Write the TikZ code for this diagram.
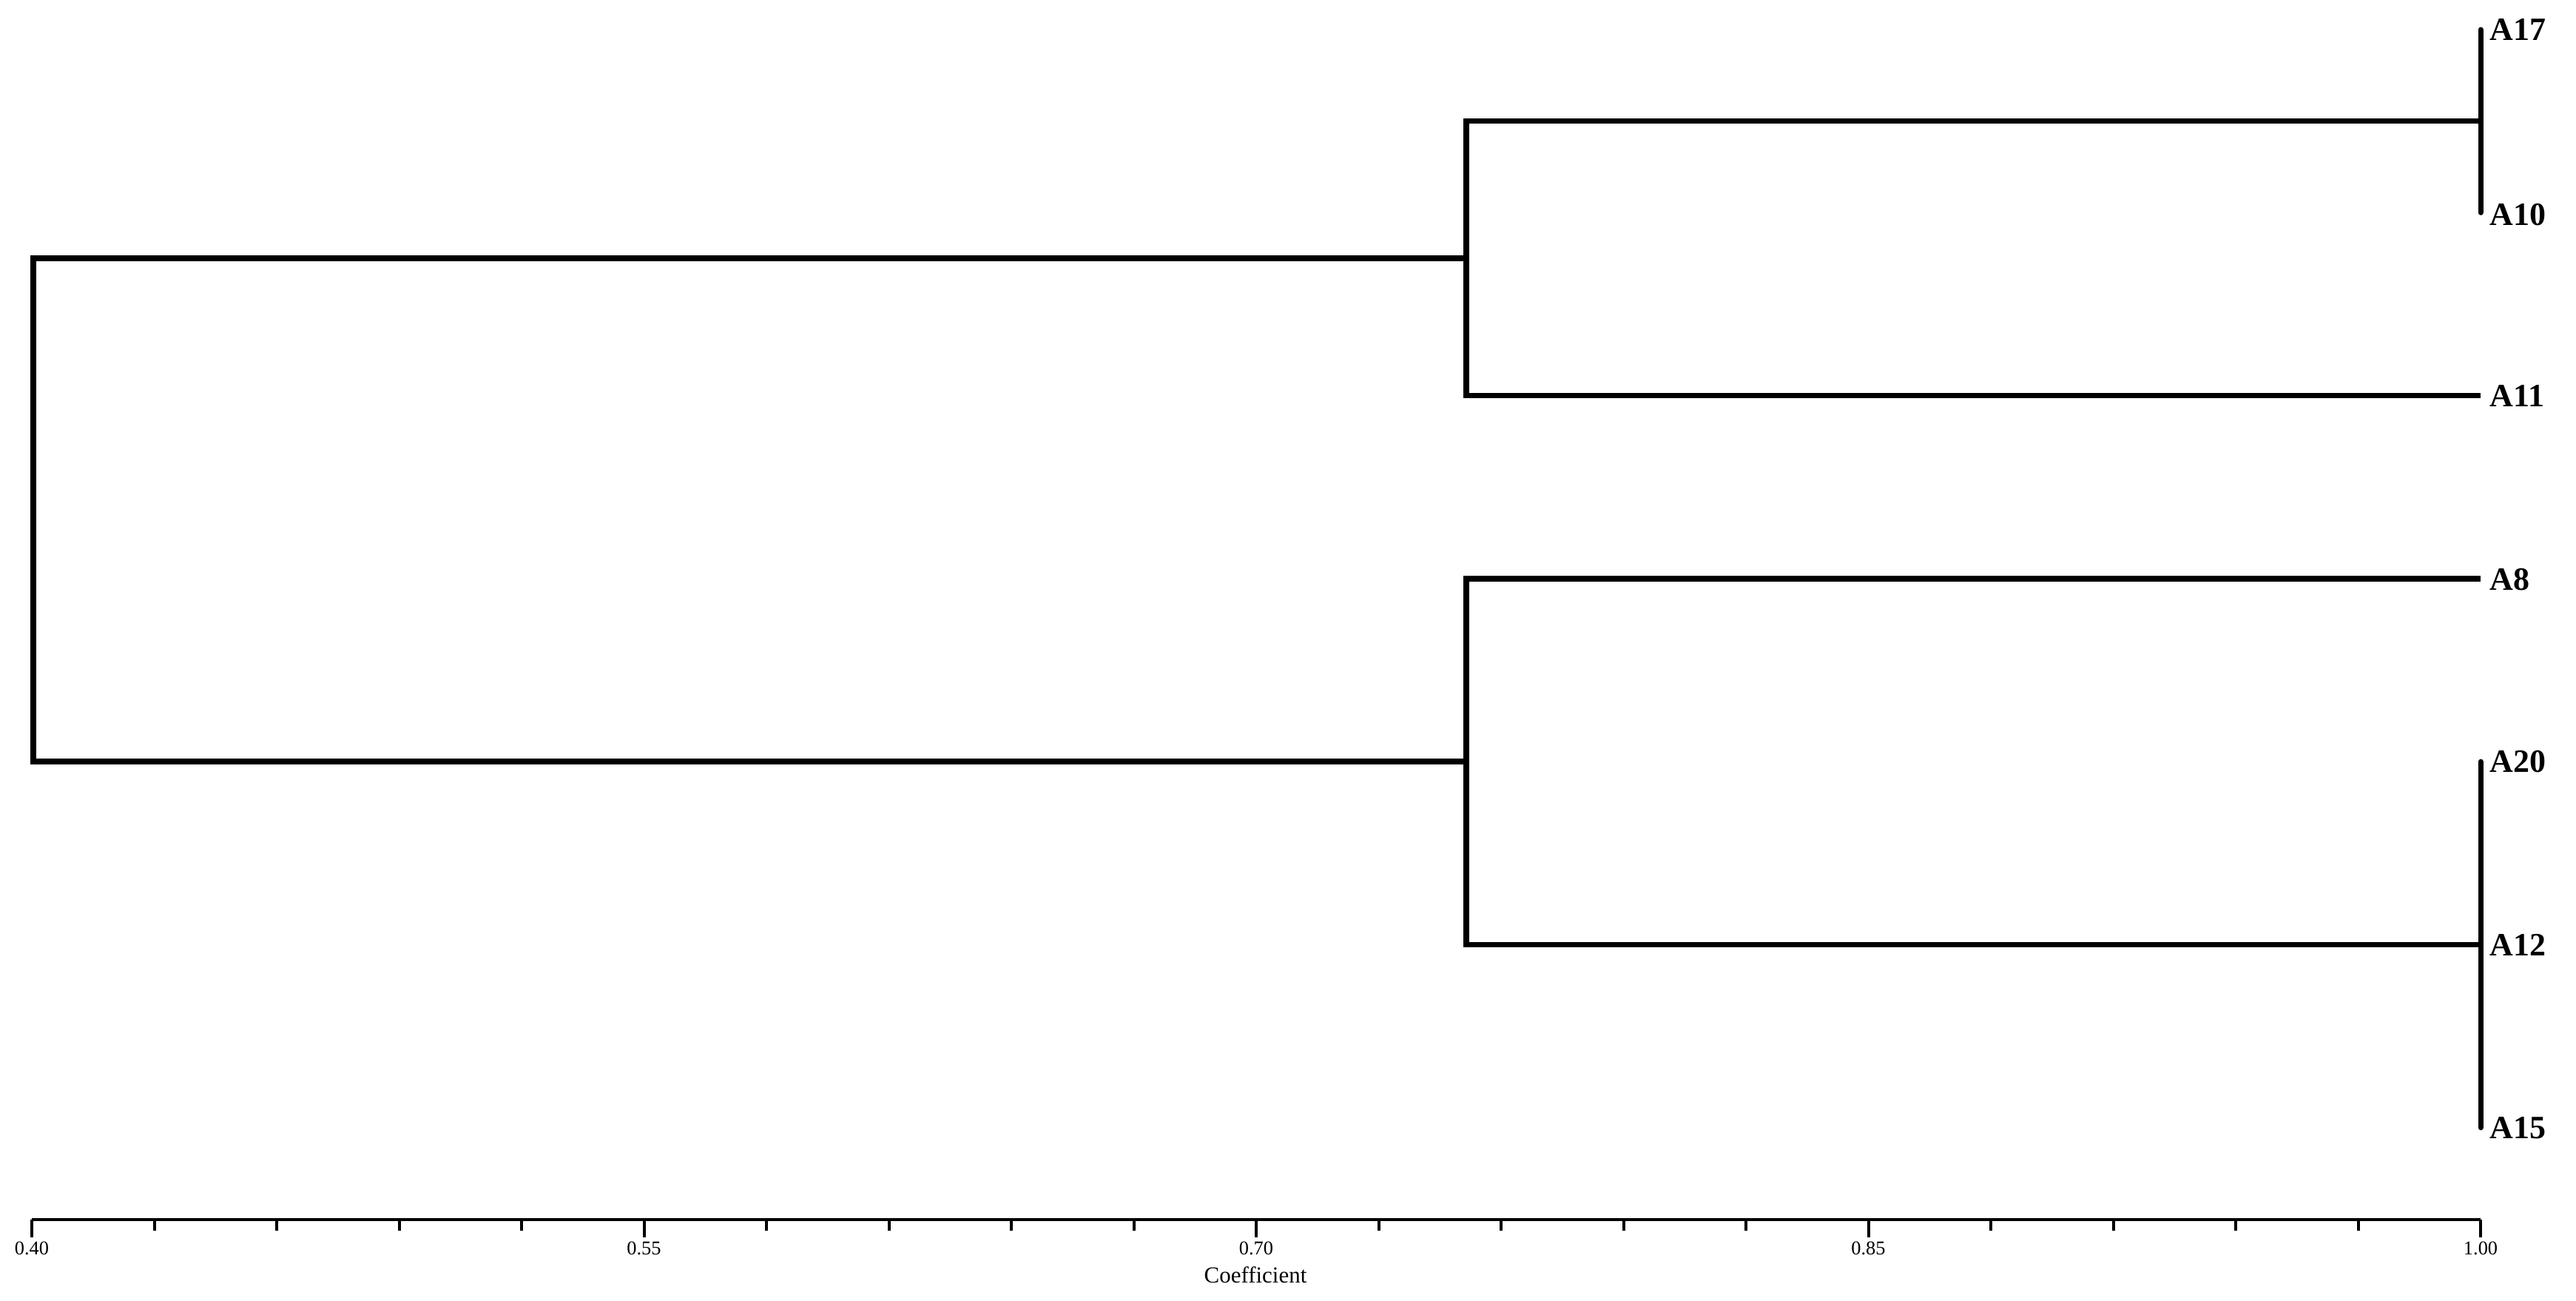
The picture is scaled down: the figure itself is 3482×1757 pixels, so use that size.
\documentclass[tikz,border=0pt]{standalone}
\usepackage{fontspec}
\setmainfont{Liberation Serif}
\usetikzlibrary{calc}
\begin{document}
\begin{tikzpicture}[x=0.01cm,y=-0.01cm,
  branch/.style={line width=0.075cm, line join=miter},
  leafbar/.style={line width=0.07cm, line cap=round},
  axisline/.style={line width=0.035cm},
  tickmark/.style={line width=0.04cm},
  leaflabel/.style={anchor=west, inner sep=0pt, font=\fontsize{12.5}{14}\selectfont\bfseries},
  ticklabel/.style={anchor=base, inner sep=0pt, font=\fontsize{7.5}{9}\selectfont},
  axistitle/.style={anchor=base, inner sep=0pt, font=\fontsize{8.8}{10}\selectfont},
]
\useasboundingbox (0,0) rectangle (3482,1757);

% joints
\coordinate (root) at (45,689);
\coordinate (up) at (1982,349);
\coordinate (lo) at (1982,1029.2);
\coordinate (j1) at (3353,163.7);
\coordinate (j2) at (3353,1276.5);
% leaves
\coordinate (l17) at (3353,40);
\coordinate (l10) at (3353,287.3);
\coordinate (l11) at (3353,534.6);
\coordinate (l8)  at (3353,781.9);
\coordinate (l20) at (3353,1029.2);
\coordinate (l12) at (3353,1276.5);
\coordinate (l15) at (3353,1523.8);

% root
\draw[branch] (up) -- (root |- up) -- (root |- lo) -- (lo);
% upper cluster
\draw[branch] (j1) -- (up |- j1) -- (up |- l11) -- (l11);
% lower cluster
\draw[branch] (l8) -- (lo |- l8) -- (lo |- j2) -- (j2);
% leaf bars
\draw[leafbar] (l17) -- (l10);
\draw[leafbar] (l20) -- (l15);

% leaf labels
\node[leaflabel] (A17) at (3365,40) {A17};
\node[leaflabel] (A10) at (3365,290) {A10};
\node[leaflabel] (A11) at (3365,534.6) {A11};
\node[leaflabel] (A8)  at (3365,783) {A8};
\node[leaflabel] (A20) at (3365,1029.2) {A20};
\node[leaflabel] (A12) at (3365,1276.5) {A12};
\node[leaflabel] (A15) at (3365,1523.8) {A15};

% axis
\coordinate (ax0) at (43,1648);
\coordinate (ax1) at (3353,1648);
\draw[axisline] (ax0) -- (ax1);
\foreach \i in {0,...,20} {
  \draw[tickmark] ($(ax0)+(165.5*\i,0)$) -- ++(0,15);
}
\foreach \k/\lab in {0/0.40,1/0.55,2/0.70,3/0.85,4/1.00} {
  \draw[tickmark] ($(ax0)+(827.5*\k,0)$) -- ++(0,24);
  \node[ticklabel] (t\k) at ($(ax0)+(827.5*\k,47)$) {\lab};
}
\node[axistitle] (title) at (1697,1733) {Coefficient};
\end{tikzpicture}
\end{document}
